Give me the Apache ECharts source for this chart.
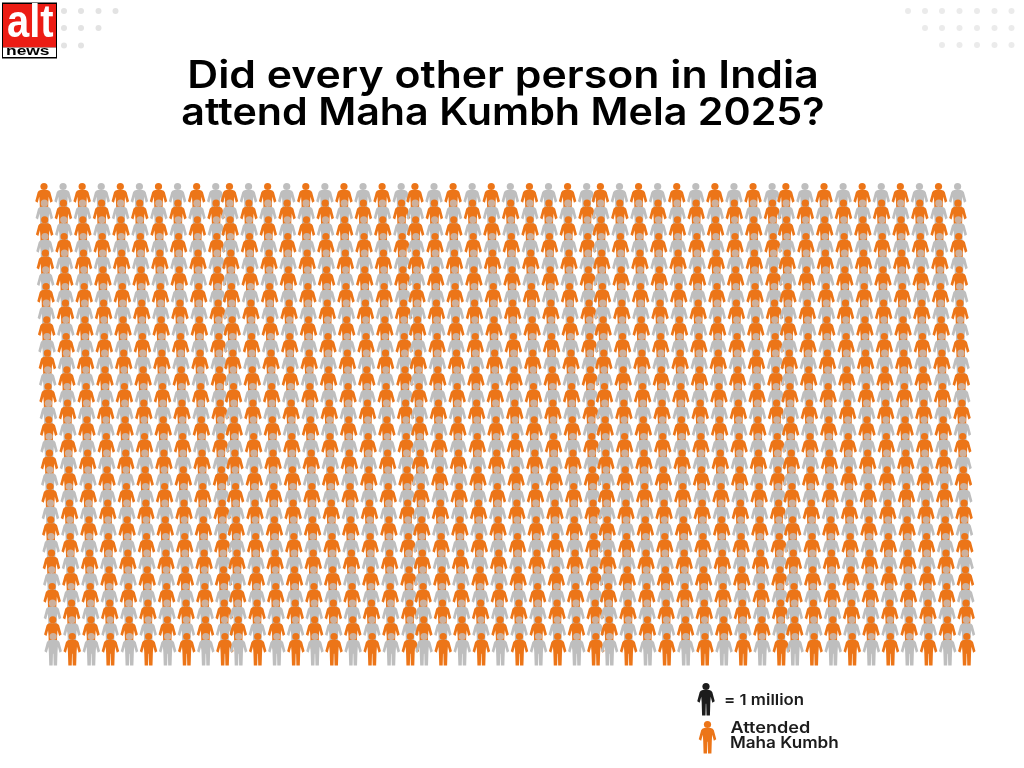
<!DOCTYPE html>
<html>
<head>
<meta charset="utf-8">
<style>html,body{margin:0;padding:0;background:#fff}#c{width:1024px;height:768px}</style>
<script src="https://cdn.jsdelivr.net/npm/echarts@6/dist/echarts.min.js"></script>
</head>
<body>
<div id="c"></div>
<script>
// A = attended (orange), N = did not attend (grey). One figure = 1 million.
var rowPatterns = [
"ANANANANANANANANANANANANANANANANANANANANANANANANAN",
"NANANANANANANANANANANANANANANANANANANANANANANANANA",
"ANANANANANANANANANANANANANANANANANANANANANANANANAN",
"NANANANANANANANANANANANANANANANANANANANANANANANANA",
"ANANANANANANANANANANANANANANANANANANANANANANANANAN",
"NANANANANANANANANANANANANANANANANANANANANANANANANA",
"ANANANANANANANANANANANANANANANANANANANANANANANANAN",
"NANANANANANANANANANANANANANANANANANANANANANANANANA",
"ANANANANANANANANANANANANANANANANANANANANANANANANAN",
"NANANANANANANANANANANANANANANANANANANANANANANANANA",
"ANANANANANANANANANANANANANANANANANANANANANANANANAN",
"NANANANANANANANANANANANANANANANANANANANANANANANANA",
"ANANANANANANANANANANANANANANANANANANANANANANANANAN",
"NANANANANANANANANANANANANANANANANANANANANANANANANA",
"ANANANANANANANANANANANANANANANANANANANANANANANANAN",
"NANANANANANANANANANANANANANANANANANANANANANANANANA",
"ANANANANANANANANANANANANANANANANANANANANANANANANAN",
"NANANANANANANANANANANANANANANANANANANANANANANANANA",
"ANANANANANANANANANANANANANANANANANANANANANANANANAN",
"NANANANANANANANANANANANANANANANANANANANANANANANANA",
"ANANANANANANANANANANANANANANANANANANANANANANANANAN",
"NANANANANANANANANANANANANANANANANANANANANANANANANA",
"ANANANANANANANANANANANANANANANANANANANANANANANANAN",
"NANANANANANANANANANANANANANANANANANANANANANANANANA",
"ANANANANANANANANANANANANANANANANANANANANANANANANAN",
"NANANANANANANANANANANANANANANANANANANANANANANANANA",
"ANANANANANANANANANANANANANANANANANANANANANANANANAN",
"NANANANANANANANANANANANANANANANANANANANANANANANANA"
];
var titleLines = ["Did every other person in India", "attend Maha Kumbh Mela 2025?"];
var unitLabel = "= 1 million";
var attendedLabel = ["Attended", "Maha Kumbh"];

var ORANGE = "#EC7518", GREY = "#BEBEBE", TAN = "#CDB09C", BLACK = "#1c1c1c";
var FONT = "Inter";
var BODY = "M52 0L118 0Q140 2 148 22L172 115L148 130L132 70L128 125L124 260L90 260L87 140L83 140L80 260L46 260L42 125L38 70L22 130L-2 115L22 22Q30 2 52 0Z";

function figure(cx, top, bodyColor, headColor) {
  return {
    type: "group",
    children: [
      { type: "path", shape: { pathData: BODY, x: cx - 8.75, y: top + 7, width: 17.5, height: 25.5, layout: "cover" },
        style: { fill: bodyColor } },
      { type: "circle", shape: { cx: cx, cy: top + 3.5, r: 3.6 }, style: { fill: headColor } }
    ]
  };
}

// Columns come in five blocks of ten; blocks overlap a little and rows drift right.
var BLOCK = 9.72, DRIFT = 0.0178;
var figures = [];
rowPatterns.forEach(function (pattern, r) {
  pattern.split("").forEach(function (ch, c) {
    figures.push([(c % 10) + BLOCK * Math.floor(c / 10) + DRIFT * r, r, ch === "A" ? 1 : 0]);
  });
});

var legendFigures = [BLACK, ORANGE];
var legendSpots = [[706, 683], [707.5, 721]];

var graphics = [];
function dot(x, y, fill) {
  graphics.push({ type: "circle", shape: { cx: x, cy: y, r: 3 }, style: { fill: fill }, silent: true });
}
[[64, 11], [81, 11], [98.5, 11], [115.5, 11], [64, 28], [81, 28], [98.5, 28], [64, 45.5], [81, 45.5]]
  .forEach(function (p) { dot(p[0], p[1], "#E3E3E3"); });
[[908, 11], [925, 11], [942, 11], [959.5, 11], [977, 11], [994.5, 11], [1011.5, 11],
 [925, 28], [942, 28], [959.5, 28], [977, 28], [994.5, 28], [1011.5, 28],
 [942, 45], [959.5, 45], [977, 45], [994.5, 45], [1011.5, 45]]
  .forEach(function (p) { dot(p[0], p[1], "#EBEBEB"); });

// logo
graphics.push({ type: "rect", shape: { x: 2, y: 2.5, width: 55, height: 56 }, style: { fill: "#000" } });
graphics.push({ type: "rect", shape: { x: 3, y: 4, width: 53, height: 43.5 }, style: { fill: "#EC1C14" } });
graphics.push({ type: "rect", shape: { x: 3, y: 47.5, width: 53, height: 9.5 }, style: { fill: "#fff" } });
graphics.push({ type: "text", x: 7, y: 47.5, scaleX: 0.85, style: { text: "alt", fill: "#fff", font: "bold 47px 'Liberation Sans'", textAlign: "left", textVerticalAlign: "bottom" } });
graphics.push({ type: "text", x: 6, y: 51.5, scaleX: 1.45, style: { text: "news", fill: "#000", font: "bold 12px 'Liberation Sans'", textAlign: "left", textVerticalAlign: "middle" } });

// title
function centred(text, y, sx) {
  graphics.push({ type: "text", x: 503, y: y, scaleX: sx, style: { text: text, fill: "#000", font: "600 38px " + FONT, textAlign: "center", textVerticalAlign: "middle" } });
}
centred(titleLines[0], 77, 1.125);
centred(titleLines[1], 114, 1.085);

// legend text
function label(text, x, y, size, sx) {
  graphics.push({ type: "text", x: x, y: y, scaleX: sx, style: { text: text, fill: BLACK, font: "600 " + size + "px " + FONT, textAlign: "left", textVerticalAlign: "middle" } });
}
label(unitLabel, 724, 700.5, 15, 1.12);
label(attendedLabel[0], 730.5, 728, 16, 1.13);
label(attendedLabel[1], 730, 743.5, 16, 1.07);

var chart = echarts.init(document.getElementById("c"), null, { renderer: "canvas" });
chart.setOption({
  backgroundColor: "#fff",
  animation: false,
  grid: { left: 44, top: 183, width: 913.6, height: 450 },
  xAxis: { type: "value", min: 0, max: 47.88, show: false },
  yAxis: { type: "value", min: 0, max: 27, inverse: true, show: false },
  graphic: graphics,
  series: [
    {
      type: "custom",
      coordinateSystem: "cartesian2d",
      clip: false,
      data: figures,
      renderItem: function (params, api) {
        var p = api.coord([api.value(0), api.value(1)]);
        var attended = api.value(2) === 1;
        var firstRow = api.value(1) === 0;
        var head = attended ? ORANGE : (firstRow ? GREY : TAN);
        return figure(p[0], p[1], attended ? ORANGE : GREY, head);
      }
    },
    {
      type: "custom",
      coordinateSystem: "none",
      data: legendFigures.map(function (c, i) { return [i]; }),
      renderItem: function (params) {
        var i = params.dataIndex, s = legendSpots[i];
        return figure(s[0], s[1], legendFigures[i], legendFigures[i]);
      }
    }
  ]
});
</script>
</body>
</html>
